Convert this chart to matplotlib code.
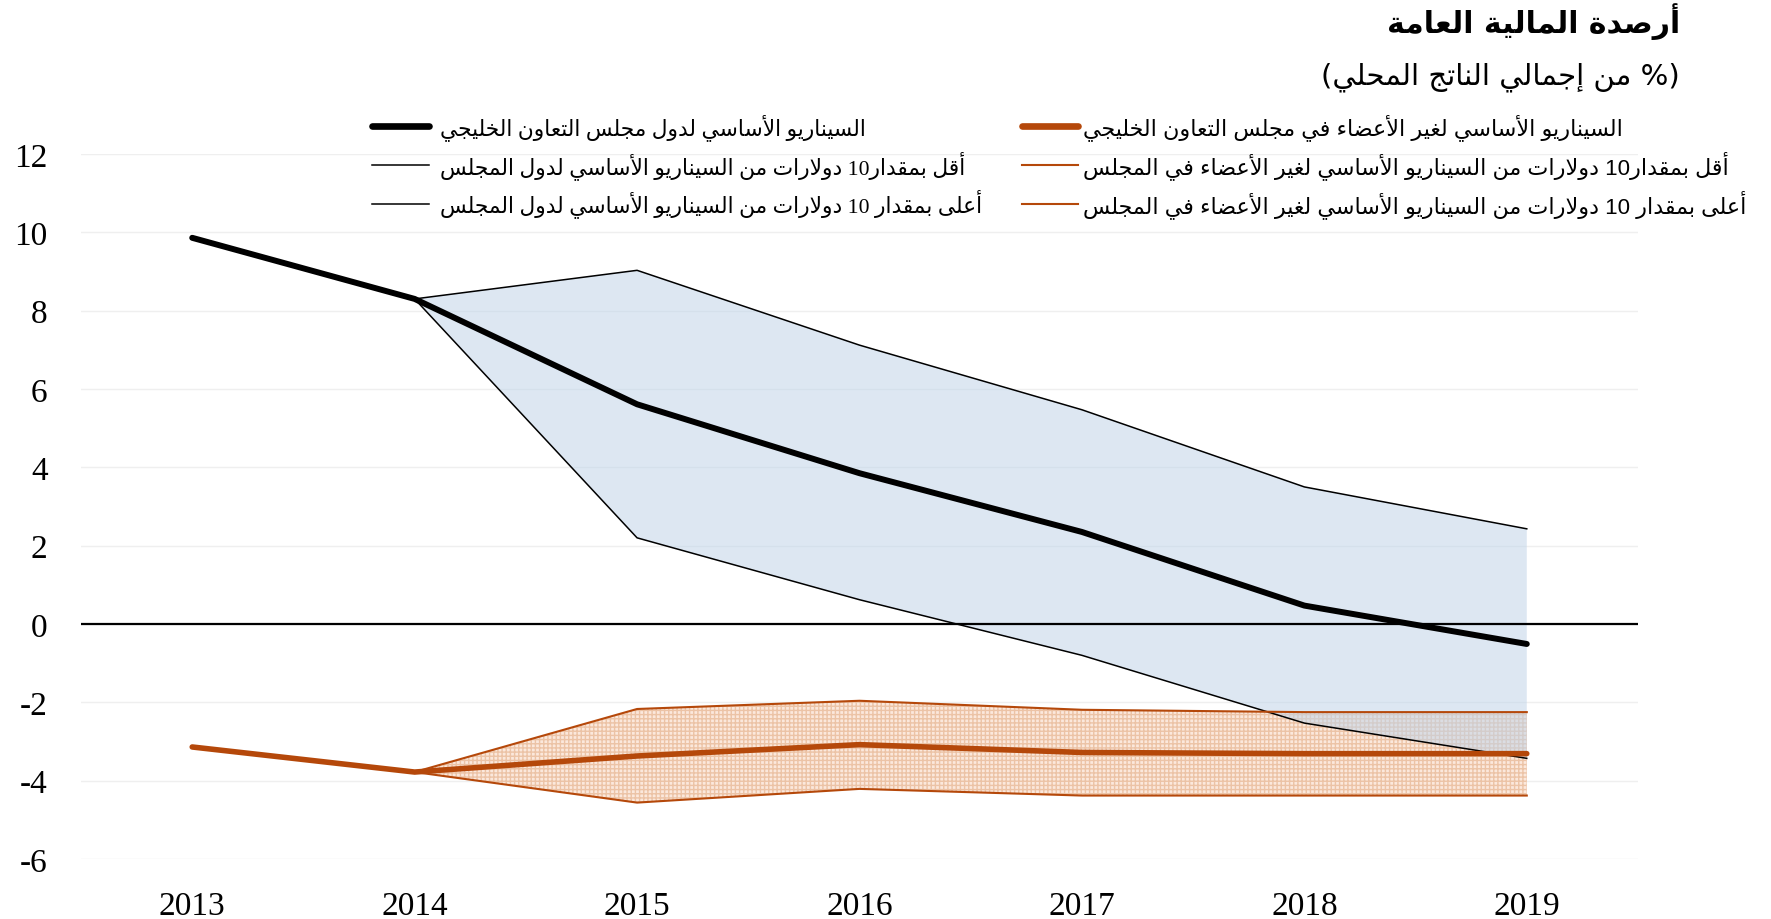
import re
import numpy as np
import matplotlib
matplotlib.use("Agg")
import matplotlib.pyplot as plt
from matplotlib.lines import Line2D

# ---------------- data ----------------
years = ['2013', '2014', '2015', '2016', '2017', '2018', '2019']
gcc_base = [9.86, 8.30, 5.61, 3.85, 2.35, 0.47, -0.51]
gcc_low10 = [np.nan, 8.30, 2.20, 0.62, -0.80, -2.53, -3.43]
gcc_high10 = [np.nan, 8.30, 9.03, 7.12, 5.47, 3.50, 2.43]
non_base = [-3.14, -3.78, -3.37, -3.08, -3.28, -3.31, -3.31]
non_low10 = [np.nan, -3.78, -2.17, -1.96, -2.19, -2.25, -2.25]
non_high10 = [np.nan, -3.78, -4.56, -4.21, -4.38, -4.38, -4.38]
yticks = [-6, -4, -2, 0, 2, 4, 6, 8, 10, 12]

title_txt = "أرصدة المالية العامة"
subtitle_txt = "% من إجمالي الناتج المحلي"
labels = [
    "السيناريو الأساسي لدول مجلس التعاون الخليجي",
    "أقل بمقدار10 دولارات من السيناريو الأساسي لدول المجلس",
    "أعلى بمقدار 10 دولارات من السيناريو الأساسي لدول المجلس",
    "السيناريو الأساسي لغير الأعضاء في مجلس التعاون الخليجي",
    "أقل بمقدار10 دولارات من السيناريو الأساسي لغير الأعضاء في المجلس",
    "أعلى بمقدار 10 دولارات من السيناريو الأساسي لغير الأعضاء في المجلس",
]

# ------------- minimal Arabic shaping (matplotlib has no bidi/shaping) -------------
_FORMS = {
    'ء': (0xFE80, 1), 'آ': (0xFE81, 2), 'أ': (0xFE83, 2), 'ؤ': (0xFE85, 2),
    'إ': (0xFE87, 2), 'ئ': (0xFE89, 4), 'ا': (0xFE8D, 2), 'ب': (0xFE8F, 4),
    'ة': (0xFE93, 2), 'ت': (0xFE95, 4), 'ث': (0xFE99, 4), 'ج': (0xFE9D, 4),
    'ح': (0xFEA1, 4), 'خ': (0xFEA5, 4), 'د': (0xFEA9, 2), 'ذ': (0xFEAB, 2),
    'ر': (0xFEAD, 2), 'ز': (0xFEAF, 2), 'س': (0xFEB1, 4), 'ش': (0xFEB5, 4),
    'ص': (0xFEB9, 4), 'ض': (0xFEBD, 4), 'ط': (0xFEC1, 4), 'ظ': (0xFEC5, 4),
    'ع': (0xFEC9, 4), 'غ': (0xFECD, 4), 'ف': (0xFED1, 4), 'ق': (0xFED5, 4),
    'ك': (0xFED9, 4), 'ل': (0xFEDD, 4), 'م': (0xFEE1, 4), 'ن': (0xFEE5, 4),
    'ه': (0xFEE9, 4), 'و': (0xFEED, 2), 'ى': (0xFEEF, 2), 'ي': (0xFEF1, 4),
    'لآ': (0xFEF5, 2), 'لأ': (0xFEF7, 2), 'لإ': (0xFEF9, 2), 'لا': (0xFEFB, 2),
}


def ar(text):
    toks = []
    i = 0
    while i < len(text):
        c = text[i]
        if c == 'ل' and i + 1 < len(text) and text[i + 1] in 'آأإا':
            toks.append(c + text[i + 1])
            i += 2
        else:
            toks.append(c)
            i += 1
    out = []
    for k, t in enumerate(toks):
        info = _FORMS.get(t)
        if info is None:
            out.append(t)
            continue
        start, n = info
        prev = _FORMS.get(toks[k - 1]) if k > 0 else None
        nxt = _FORMS.get(toks[k + 1]) if k + 1 < len(toks) else None
        jp = prev is not None and prev[1] == 4 and n >= 2
        jn = n == 4 and nxt is not None and nxt[1] >= 2
        idx = 3 if (jp and jn) else 1 if jp else 2 if jn else 0
        out.append(chr(start + idx))
    vis = ''.join(out)[::-1]
    vis = re.sub(r'[0-9]+', lambda m: m.group(0)[::-1], vis)
    return vis


# ---------------- figure ----------------
W, H = 1771, 920
fig = plt.figure(figsize=(W / 100, H / 100), dpi=100)
ax = fig.add_axes([81 / W, 60 / H, (1638 - 81) / W, (860 - 155) / H])

x = np.arange(len(years))
black = '#000000'
orange = '#b5480a'

ax.fill_between(x, non_high10, non_low10, facecolor='#fbe8dc', edgecolor='#ecc3a6',
                hatch='++++', linewidth=0, zorder=1)
ax.fill_between(x, gcc_low10, gcc_high10, facecolor='#c1d5e9', alpha=0.55,
                linewidth=0, zorder=2)
ax.axhline(0, color='black', lw=1.6, zorder=2.5)

l1, = ax.plot(x, gcc_base, color=black, lw=4.3, zorder=5, solid_capstyle='round')
l2, = ax.plot(x, gcc_low10, color=black, lw=1.1, zorder=4)
l3, = ax.plot(x, gcc_high10, color=black, lw=1.1, zorder=4)
l4, = ax.plot(x, non_base, color=orange, lw=4.0, zorder=5, solid_capstyle='round')
l5, = ax.plot(x, non_low10, color=orange, lw=1.5, zorder=4)
l6, = ax.plot(x, non_high10, color=orange, lw=1.5, zorder=4)

ax.set_xlim(-0.5, len(years) - 0.5)
ax.set_ylim(-6, 12)
ax.set_yticks(yticks)
ax.set_yticklabels([str(v) for v in yticks])
ax.set_xticks(x)
ax.set_xticklabels(years)
ax.grid(axis='y', color='#efefef', lw=1.0, zorder=0)
ax.set_axisbelow(True)
for s in ax.spines.values():
    s.set_visible(False)
ax.tick_params(axis='both', length=0, labelsize=24)
ax.tick_params(axis='y', pad=24)
ax.tick_params(axis='x', pad=23)
for t in ax.get_xticklabels() + ax.get_yticklabels():
    t.set_family(['Liberation Serif', 'DejaVu Sans'])

# titles
fig.text(1680 / W, 1 - 22 / H, ar(title_txt), ha='right', va='center',
         fontsize=21.5, fontweight='bold', family=['DejaVu Sans'])
fig.text(1680 / W, 1 - 77 / H, '(' + ar(subtitle_txt) + ')', ha='right', va='center',
         fontsize=21, family=['DejaVu Sans'])

# legends
h1 = [Line2D([], [], color=black, lw=4.8, solid_capstyle='round'),
      Line2D([], [], color=black, lw=1.1),
      Line2D([], [], color=black, lw=1.1)]
h2 = [Line2D([], [], color=orange, lw=4.8, solid_capstyle='round'),
      Line2D([], [], color=orange, lw=1.5),
      Line2D([], [], color=orange, lw=1.5)]
leg1 = fig.legend(h1, [ar(s) for s in labels[:3]], loc='upper left',
                  bbox_to_anchor=(372 / W, 1 - 114 / H), frameon=False,
                  handlelength=2.6, handletextpad=0.5,
                  borderpad=0, borderaxespad=0, labelspacing=0.45,
                  prop={'family': ['Liberation Serif', 'DejaVu Sans'], 'size': 15.7})
leg2 = fig.legend(h2, [ar(s) for s in labels[3:]], loc='upper left',
                  bbox_to_anchor=(1022 / W, 1 - 114 / H), frameon=False,
                  handlelength=2.5, handletextpad=0.25,
                  borderpad=0, borderaxespad=0, labelspacing=0.45,
                  prop={'family': ['Liberation Sans', 'DejaVu Sans'], 'size': 16})

fig.savefig('out.png', dpi=100)
